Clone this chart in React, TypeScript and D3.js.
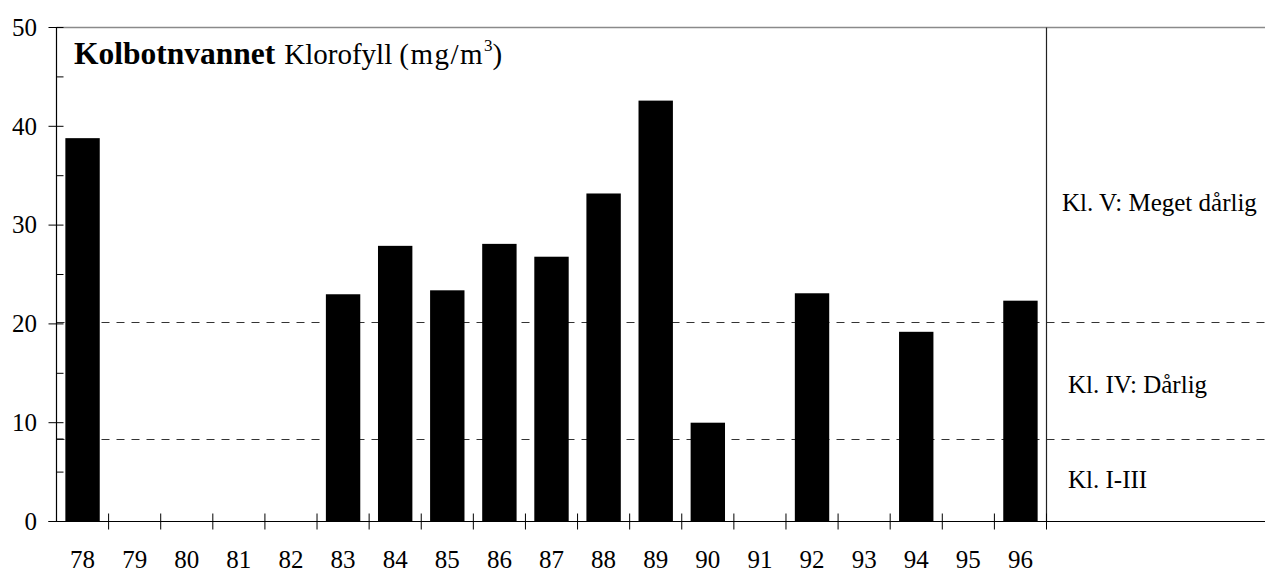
import React from "react";
import * as d3 from "d3";

const years = ["78","79","80","81","82","83","84","85","86","87","88","89","90","91","92","93","94","95","96"];
const chlorophyll: (number | null)[] = [38.8, null, null, null, null, 23.0, 27.9, 23.4, 28.1, 26.8, 33.2, 42.6, 10.0, null, 23.1, null, 19.2, null, 22.35];
const classLimits = [20.2, 8.35];
const classLabels = ["Kl. V: Meget dårlig", "Kl. IV: Dårlig", "Kl. I-III"];
const classLabelLevels = [31.4, 13.0, 3.4];
const yMajorTicks = [0, 10, 20, 30, 40, 50];
const yMinorTicks = [5, 15, 25, 35, 45];

const W = 1265;
const H = 574;
const left = 56.5;
const right = 1046.5;
const top = 27.5;
const bottom = 521.5;
const FONT = "'Liberation Serif', 'Times New Roman', serif";

export default function App() {
  const x = d3.scaleBand<string>().domain(years).range([left, right]).paddingInner(0.34).paddingOuter(0.17);
  const y = d3.scaleLinear().domain([0, 50]).range([bottom, top]);
  const boundaries = d3.range(1, years.length + 1).map((i) => left + ((right - left) / years.length) * i);

  return (
    <svg width={W} height={H} style={{ position: "absolute", left: 0, top: 0, background: "#fff" }}>
      {/* top border */}
      <line x1={left} x2={W} y1={top} y2={top} stroke="#8a8a8a" strokeWidth={1.5} />
      {/* dashed class limits */}
      {classLimits.map((v, i) => (
        <line key={"d" + i} x1={left} x2={W} y1={Math.round(y(v)) + 0.5} y2={Math.round(y(v)) + 0.5} stroke="#333" strokeWidth={1} strokeDasharray="8,7" />
      ))}
      {/* bars */}
      {chlorophyll.map((v, i) =>
        v == null ? null : (
          <rect key={"b" + i} x={x(years[i])} y={y(v)} width={x.bandwidth()} height={bottom - y(v)} fill="#000" />
        )
      )}
      {/* axes */}
      <line x1={left} x2={left} y1={top} y2={bottom} stroke="#000" strokeWidth={1.2} />
      <line x1={right} x2={right} y1={top} y2={bottom} stroke="#222" strokeWidth={1.2} />
      <line x1={left - 8} x2={W} y1={bottom} y2={bottom} stroke="#000" strokeWidth={1.2} />
      {yMajorTicks.map((t) => (
        <g key={"ym" + t}>
          <line x1={left - 8} x2={left + 7} y1={y(t)} y2={y(t)} stroke="#000" strokeWidth={1} />
          <text x={37} y={y(t)} dy="0.33em" textAnchor="end" fontFamily={FONT} fontSize={25} fill="#000">{t}</text>
        </g>
      ))}
      {[...yMinorTicks, classLimits[1]].map((t, i) => (
        <line key={"yn" + i} x1={left} x2={left + 7} y1={y(t)} y2={y(t)} stroke="#000" strokeWidth={1} />
      ))}
      {boundaries.map((bx, i) => (
        <line key={"xt" + i} x1={bx} x2={bx} y1={bottom - 8} y2={bottom + 8} stroke="#000" strokeWidth={1} />
      ))}
      {years.map((yr) => (
        <text key={"xl" + yr} x={(x(yr) as number) + x.bandwidth() / 2} y={568} textAnchor="middle" fontFamily={FONT} fontSize={25} fill="#000">{yr}</text>
      ))}
      {/* title */}
      <text x={74} y={64} fontFamily={FONT} fill="#000">
        <tspan fontWeight="bold" fontSize={31.5}>Kolbotnvannet</tspan>
        <tspan fontSize={29} dx={9}>Klorofyll</tspan>
        <tspan fontSize={29} dx={7} letterSpacing={1.5}>(mg/m</tspan>
        <tspan fontSize={17} dy={-13}>3</tspan>
        <tspan fontSize={29} dy={13}>)</tspan>
      </text>
      {/* class labels */}
      {classLabels.map((l, i) => (
        <text key={"cl" + i} x={i === 0 ? 1062 : 1068} y={y(classLabelLevels[i])} fontFamily={FONT} fontSize={25} fill="#000">{l}</text>
      ))}
    </svg>
  );
}
